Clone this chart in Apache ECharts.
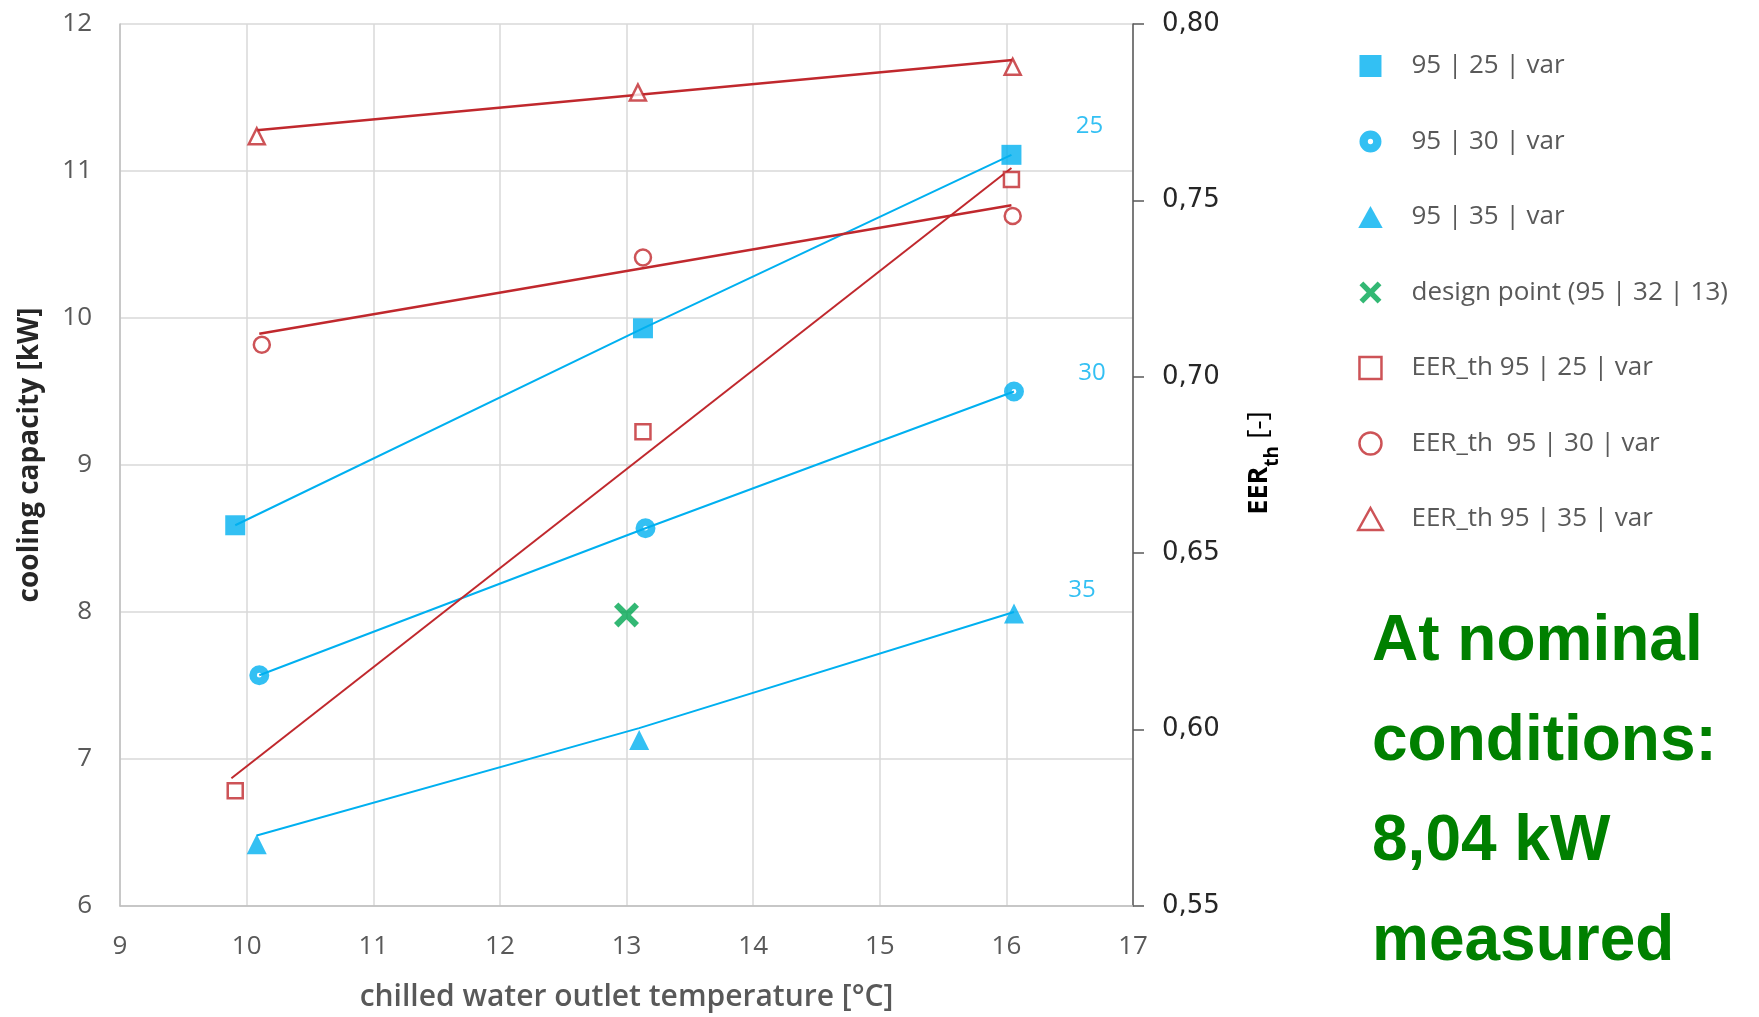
<!DOCTYPE html>
<html><head><meta charset="utf-8">
<script src="https://cdn.jsdelivr.net/npm/echarts@6/dist/echarts.min.js"></script>
<style>html,body{margin:0;padding:0;background:#fff}#c{width:1759px;height:1017px}</style>
</head><body><div id="c"></div>
<script>
// ---- data ----
const xRange = [9, 17];            // chilled water outlet temperature [°C]
const capRange = [6, 12];          // cooling capacity [kW]
const eerRange = [0.55, 0.80];     // EER_th [-]
const seriesNames = [
  '95 | 25 | var',
  '95 | 30 | var',
  '95 | 35 | var',
  'design point (95 | 32 | 13)',
  'EER_th 95 | 25 | var',
  'EER_th  95 | 30 | var',
  'EER_th 95 | 35 | var'
];
const endLabels = ['25', '30', '35'];
// cooling capacity (left axis) [T, kW]
const cap25 = [[9.91, 8.59], [13.13, 9.93], [16.04, 11.11]];
const cap30 = [[10.10, 7.57], [13.15, 8.57], [16.06, 9.50]];
const cap35 = [[10.08, 6.42], [13.10, 7.13], [16.06, 7.99]];
const cap35Line = [[10.08, 6.48], [13.10, 7.21], [16.06, 8.00]];
const designPoint = [[13.0, 7.98]];
// EER_th (right axis) [T, -]
const eer25 = [[9.91, 0.5827], [13.13, 0.6844], [16.04, 0.7559]];
const eer25Trend = [[9.88, 0.5862], [16.04, 0.7592]];
const eer30 = [[10.12, 0.7091], [13.13, 0.7338], [16.05, 0.7456]];
const eer30Trend = [[10.10, 0.7122], [16.04, 0.7486]];
const eer35 = [[10.08, 0.7682], [13.09, 0.7806], [16.05, 0.7879]];
const eer35Trend = [[10.08, 0.7699], [16.05, 0.7898]];
const noteLines = ['At nominal', 'conditions:', '8,04 kW', 'measured'];

// ---- styling ----
const BLUE = '#00b0f0', RED = '#c0282d', GREEN = '#00a651';
const FONT = 'Open Sans';
const endOffsets = [[78, -29], [78, -18], [68, -23]];
const SQUARE_PATH = 'path://M0,0 L20,0 L20,20 L0,20 Z';
const TRI_PATH = 'path://M10,0 L20,18 L0,18 Z';
const X_PATH = 'path://M3.5,0 L10,6.5 L16.5,0 L20,3.5 L13.5,10 L20,16.5 L16.5,20 L10,13.5 L3.5,20 L0,16.5 L6.5,10 L0,3.5 Z';
const RING_PATH = 'path://M0,10 A10,10 0 1,1 20,10 A10,10 0 1,1 0,10 Z M7.6,10 A2.4,2.4 0 1,0 12.4,10 A2.4,2.4 0 1,0 7.6,10 Z';
const CIRCLE_PATH = 'path://M0,10 A10,10 0 1,1 20,10 A10,10 0 1,1 0,10 Z';

function withEndLabel(arr, k) {
  return arr.map((p, i) => i === arr.length - 1 ? {
    value: p,
    label: { show: true, formatter: endLabels[k], position: 'inside', offset: endOffsets[k],
      color: BLUE, fontSize: 24, fontFamily: FONT }
  } : p);
}
function lineSeries(data, color, yIdx, width) {
  return { type: 'line', data, yAxisIndex: yIdx, showSymbol: false, symbol: 'none', silent: true, z: 2,
    lineStyle: { color, width }, emphasis: { disabled: true } };
}
const openStyle = { color: '#ffffff', borderColor: RED, borderWidth: 2.5 };
const legendIcons = [SQUARE_PATH, RING_PATH, TRI_PATH, X_PATH, SQUARE_PATH, CIRCLE_PATH, TRI_PATH];
const legendStyles = [
  { color: BLUE, borderWidth: 0 },
  { color: BLUE, borderWidth: 0 },
  { color: BLUE, borderWidth: 0 },
  { color: GREEN, borderWidth: 0 },
  openStyle, openStyle, openStyle
];

const chart = echarts.init(document.getElementById('c'), null, { renderer: 'canvas' });
chart.setOption({
  backgroundColor: '#ffffff',
  animation: false,
  grid: { left: 120, right: 626, top: 24, bottom: 108 },
  legend: {
    orient: 'vertical', left: 1352, top: 46, itemWidth: 72, itemHeight: 22, itemGap: 45.5,
    data: seriesNames.map((n, i) => ({ name: n, icon: legendIcons[i], itemStyle: legendStyles[i] })),
    textStyle: { color: '#595959', fontSize: 26, fontFamily: FONT, lineHeight: 30 },
    selectedMode: false
  },
  xAxis: {
    type: 'value', min: xRange[0], max: xRange[1], interval: 1,
    name: 'chilled water outlet temperature [°C]', nameLocation: 'middle', nameGap: 76,
    nameTextStyle: { color: '#595959', fontSize: 30, fontWeight: 600, fontFamily: FONT },
    axisLine: { show: true, lineStyle: { color: '#bfbfbf', width: 1.5 } },
    axisTick: { show: false },
    axisLabel: { color: '#595959', fontSize: 26, fontFamily: FONT, margin: 28 },
    splitLine: { show: true, lineStyle: { color: '#d9d9d9', width: 1.5 } }
  },
  yAxis: [{
    type: 'value', min: capRange[0], max: capRange[1], interval: 1, position: 'left',
    name: 'cooling capacity [kW]', nameLocation: 'middle', nameRotate: 90, nameGap: 76,
    nameTextStyle: { color: '#262626', fontSize: 28, fontWeight: 'bold', fontFamily: FONT, padding: [0, 0, 0, 20] },
    axisLine: { show: true, lineStyle: { color: '#bfbfbf', width: 1.5 } },
    axisTick: { show: false },
    axisLabel: { color: '#595959', fontSize: 26, fontFamily: FONT, margin: 28 },
    splitLine: { show: true, lineStyle: { color: '#d9d9d9', width: 1.5 } }
  }, {
    type: 'value', min: eerRange[0], max: eerRange[1], interval: 0.05, position: 'right',
    name: '{m|EER}{s|th}{n| [-]}', nameLocation: 'middle', nameRotate: 90, nameGap: 112,
    nameTextStyle: {
      color: '#000', fontFamily: FONT, padding: [0, 0, 0, 4],
      rich: {
        m: { fontSize: 27, fontWeight: 'bold', fontFamily: FONT, color: '#000' },
        s: { fontSize: 19, fontWeight: 'bold', fontFamily: FONT, color: '#000', verticalAlign: 'bottom', padding: [0, 0, -9, 0] },
        n: { fontSize: 28, fontFamily: FONT, color: '#000' }
      }
    },
    axisLine: { show: true, lineStyle: { color: '#595959', width: 1.5 } },
    axisTick: { show: true, inside: false, length: 11, lineStyle: { color: '#595959', width: 1.5 } },
    axisLabel: { color: '#262626', fontSize: 26, fontFamily: 'DejaVu Sans', margin: 29,
      formatter: v => v.toFixed(2).replace('.', ',') },
    splitLine: { show: false }
  }],
  graphic: [{
    type: 'text', left: 1372, top: 592, silent: true,
    style: { text: noteLines.join('\n'), fill: '#008000',
      lineHeight: 100, fontSize: 64, fontWeight: 'bold', fontFamily: '"Liberation Sans", Arial, sans-serif' }
  }],
  series: [
    lineSeries(cap25, BLUE, 0, 2),
    lineSeries(cap30, BLUE, 0, 2),
    lineSeries(cap35Line, BLUE, 0, 2),
    lineSeries(eer25Trend, RED, 1, 2),
    lineSeries(eer30Trend, RED, 1, 2.5),
    lineSeries(eer35Trend, RED, 1, 2.5),
    { name: seriesNames[0], type: 'scatter', yAxisIndex: 0, z: 3, data: withEndLabel(cap25, 0),
      symbol: 'rect', symbolSize: 20, symbolKeepAspect: true, itemStyle: { color: BLUE } },
    { name: seriesNames[1], type: 'scatter', yAxisIndex: 0, z: 3, data: withEndLabel(cap30, 1),
      symbol: RING_PATH, symbolSize: 20, symbolKeepAspect: true, itemStyle: { color: BLUE } },
    { name: seriesNames[2], type: 'scatter', yAxisIndex: 0, z: 3, data: withEndLabel(cap35, 2),
      symbol: 'triangle', symbolSize: 20, symbolKeepAspect: true, itemStyle: { color: BLUE } },
    { name: seriesNames[3], type: 'scatter', yAxisIndex: 0, z: 3, data: designPoint,
      symbol: X_PATH, symbolSize: 25, symbolKeepAspect: true, itemStyle: { color: GREEN } },
    { name: seriesNames[4], type: 'scatter', yAxisIndex: 1, z: 3, data: eer25,
      symbol: 'rect', symbolSize: 15, symbolKeepAspect: true, itemStyle: openStyle },
    { name: seriesNames[5], type: 'scatter', yAxisIndex: 1, z: 3, data: eer30,
      symbol: 'circle', symbolSize: 16, symbolKeepAspect: true, itemStyle: openStyle },
    { name: seriesNames[6], type: 'scatter', yAxisIndex: 1, z: 3, data: eer35,
      symbol: 'triangle', symbolSize: 16, symbolKeepAspect: true, itemStyle: openStyle }
  ]
});
</script></body></html>
